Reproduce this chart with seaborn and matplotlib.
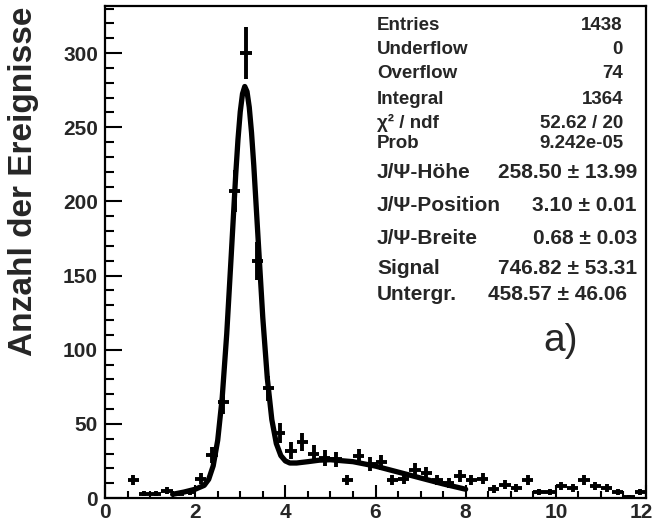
import numpy as np
import pandas as pd
import matplotlib
matplotlib.use("Agg")
import matplotlib.pyplot as plt
import matplotlib.transforms as mtransforms
from matplotlib.ticker import MultipleLocator
import seaborn as sns

# ---- data ----
bin_centers = [0.625, 0.875, 1.125, 1.375, 1.625, 1.875, 2.125, 2.375, 2.625, 2.875,
               3.125, 3.375, 3.625, 3.875, 4.125, 4.375, 4.625, 4.875, 5.125, 5.375,
               5.625, 5.875, 6.125, 6.375, 6.625, 6.875, 7.125, 7.375, 7.625, 7.875,
               8.125, 8.375, 8.625, 8.875, 9.125, 9.375, 9.625, 9.875, 10.125, 10.375,
               10.625, 10.875, 11.125, 11.375, 11.625, 11.875]
counts = [12, 3, 3, 5, 3, 4, 13, 29, 65, 207,
          300, 160, 74, 44, 32, 38, 30, 27, 26, 12,
          28, 23, 24, 12, 13, 19, 17, 12, 10, 15,
          12, 13, 6, 9, 7, 12, 4, 4, 8, 7,
          12, 8, 7, 4, 1, 4]
bin_width = 0.25

fit_x = [1.5, 1.75, 2.0, 2.2, 2.3, 2.4, 2.5, 2.6, 2.7, 2.8, 2.9, 2.95, 3.0, 3.05, 3.1,
         3.15, 3.2, 3.25, 3.3, 3.4, 3.5, 3.6, 3.7, 3.8, 3.9, 4.0, 4.1, 4.25, 4.5,
         4.75, 5.0, 5.5, 6.0, 6.5, 7.0, 7.5, 8.0]
fit_y = [2.5, 4.0, 5.9, 8.5, 12.6, 21.7, 38.9, 67.8, 110.6, 163.7, 218.4, 241.9, 260.5,
         272.6, 277.5, 274.1, 263.5, 246.4, 224.4, 172.7, 121.6, 80.8, 52.9, 36.7, 28.6,
         25.0, 23.6, 23.6, 24.5, 25.5, 25.8, 24.5, 21.5, 17.5, 13.5, 9.5, 5.9]

x_ticks = [0, 2, 4, 6, 8, 10, 12]
y_ticks = [0, 50, 100, 150, 200, 250, 300]

stat_labels = ["Entries", "Underflow", "Overflow", "Integral", "\u03c7\u00b2 / ndf", "Prob"]
stat_values = ["1438", "0", "74", "1364", "52.62 / 20", "9.242e-05"]
par_labels = ["J/\u03a8-H\u00f6he", "J/\u03a8-Position", "J/\u03a8-Breite", "Signal", "Untergr."]
par_values = ["258.50 \u00b1 13.99", "3.10 \u00b1 0.01", "0.68 \u00b1 0.03",
              "746.82 \u00b1 53.31", "458.57 \u00b1 46.06"]
y_label = "Anzahl der Ereignisse"
panel_tag = "a)"

# ---- styling ----
sns.set_style("ticks")
plt.rcParams['font.family'] = ['Liberation Sans', 'DejaVu Sans']
plt.rcParams['font.weight'] = 'bold'

W, H = 656, 526
fig = plt.figure(figsize=(W / 100, H / 100), dpi=100)
ax = fig.add_axes([105 / W, 28 / H, 541 / W, 492.3 / H])

df = pd.DataFrame({"x": bin_centers, "n": counts})
df["err"] = np.sqrt(df["n"])

ax.errorbar(df["x"], df["n"], xerr=bin_width / 2, yerr=df["err"], fmt="none",
            ecolor="black", elinewidth=2.8, capsize=0, zorder=2)
fit_df = pd.DataFrame({"x": fit_x, "y": fit_y})
sns.lineplot(data=fit_df, x="x", y="y", ax=ax, color="black", linewidth=3.8,
             sort=False, estimator=None, zorder=3)

ax.set_xlim(0, 12)
ax.set_ylim(0, 332)
ax.set_xticks(x_ticks)
ax.set_yticks(y_ticks)
ax.xaxis.set_minor_locator(MultipleLocator(0.5))
ax.yaxis.set_minor_locator(MultipleLocator(10))
ax.set_xlabel("")
ax.set_ylabel("")

ax.tick_params(axis="both", which="both", direction="in", top=False, right=False,
               width=1.5, color="black")
ax.tick_params(axis="y", which="major", length=12.2, pad=5, labelsize=15)
ax.tick_params(axis="y", which="minor", length=6.5)
ax.tick_params(axis="x", which="major", length=9.7, pad=3.5, labelsize=15)
ax.tick_params(axis="x", which="minor", length=5)
for lab in ax.get_xticklabels() + ax.get_yticklabels():
    lab.set_fontweight("bold")
# last x label sits slightly left so it stays inside the canvas
last = ax.get_xticklabels()[-1]
last.set_transform(last.get_transform() +
                   mtransforms.ScaledTranslation(-5 / 100, 0, fig.dpi_scale_trans))
for sp in ax.spines.values():
    sp.set_visible(True)
    sp.set_linewidth(1.6)
    sp.set_color("black")

def fx(px):
    return px / W

def fy(py):
    return 1 - py / H

fig.text(fx(24), fy(7), y_label, rotation=90, ha="center", va="top",
         fontsize=24, fontweight="bold")

stat_base = [30, 53.5, 78.5, 103.5, 128.5, 148]
for lab, val, b in zip(stat_labels, stat_values, stat_base):
    fig.text(fx(377), fy(b), lab, ha="left", va="baseline", fontsize=13.5, fontweight="bold")
    fig.text(fx(623), fy(b), val, ha="right", va="baseline", fontsize=13.5, fontweight="bold")

par_base = [178.5, 211, 244, 273.5, 300]
par_right = [637, 637, 637, 637, 627]
for lab, val, b, r in zip(par_labels, par_values, par_base, par_right):
    fig.text(fx(377), fy(b), lab, ha="left", va="baseline", fontsize=15, fontweight="bold")
    fig.text(fx(r), fy(b), val, ha="right", va="baseline", fontsize=15, fontweight="bold")

fig.text(fx(578), fy(351), panel_tag, ha="right", va="baseline", fontsize=28,
         fontweight="normal")

fig.savefig("out.png", dpi=100)
